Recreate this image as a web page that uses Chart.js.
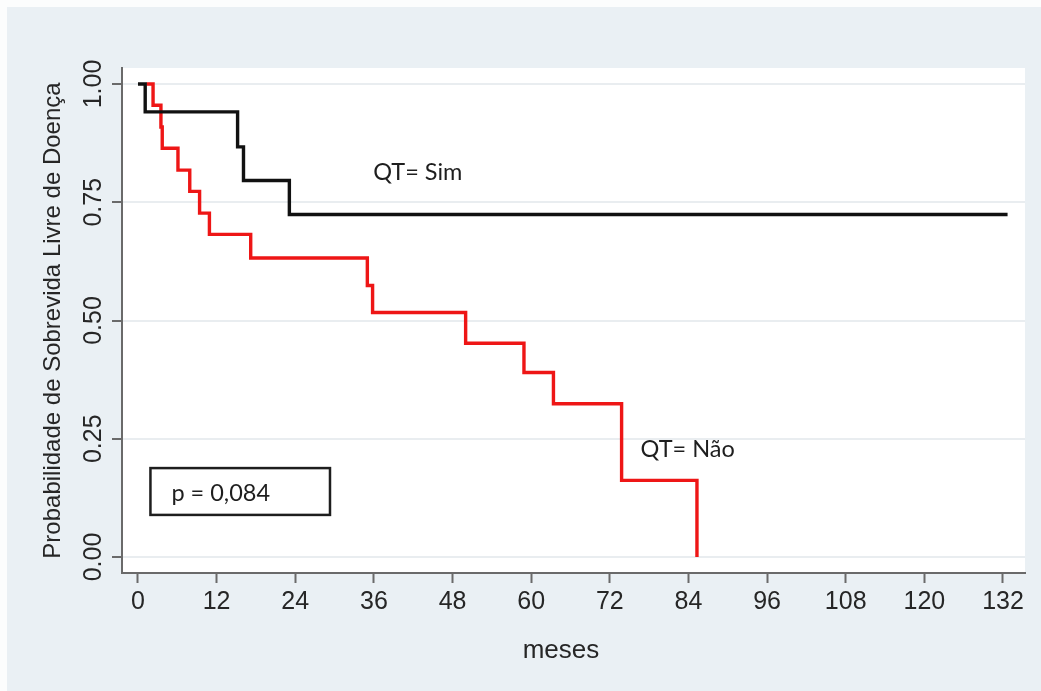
<!DOCTYPE html>
<html>
<head>
<meta charset="utf-8">
<script src="https://cdn.jsdelivr.net/npm/chart.js@4"></script>
<style>
  html, body { margin: 0; padding: 0; background: #fff; }
  canvas { display: block; }
</style>
</head>
<body>
<canvas id="kmChart" width="1041" height="691"></canvas>
<script>
// Kaplan-Meier estimates (time in months, survival)
const simMonths = [0, 1.1, 15.2, 16.1, 23.1, 132.7];
const simSurv   = [1.0, 0.941, 0.867, 0.796, 0.724, 0.724];

const naoMonths = [1.3, 2.3, 3.5, 3.7, 6.1, 7.9, 9.4, 10.9, 17.2, 35.0, 35.8, 50.0, 58.9, 63.4, 73.8, 85.3];
const naoSurv   = [1.0, 0.955, 0.909, 0.864, 0.818, 0.773, 0.727, 0.682, 0.632, 0.574, 0.517, 0.452, 0.390, 0.324, 0.162, 0.0];

const xTicks = [0, 12, 24, 36, 48, 60, 72, 84, 96, 108, 120, 132];
const yTicks = [0, 0.25, 0.5, 0.75, 1];

const yTitle = 'Probabilidade de Sobrevida Livre de Doença';
const xTitle = 'meses';

// text notes placed in data coordinates
const notes = [
  { text: 'QT= Sim', x: 35.9, y: 0.8125 },
  { text: 'QT= Não', x: 76.7, y: 0.227 }
];
const pText = 'p = 0,084';

const toPoints = (xs, ys) => xs.map((x, i) => ({ x: x, y: ys[i] }));

const AXIS_FONT = '"Liberation Sans", Arial, sans-serif';
const NOTE_FONT = 'Lato, "Open Sans", sans-serif';

const background = {
  id: 'background',
  beforeDraw(chart) {
    const { ctx, width, height, chartArea: a } = chart;
    ctx.save();
    ctx.fillStyle = '#fcfdfd';
    ctx.fillRect(0, 0, width, height);
    ctx.fillStyle = '#eaf0f4';
    ctx.fillRect(7, 7, width - 7, height - 7);
    ctx.fillStyle = '#ffffff';
    ctx.fillRect(a.left, a.top, a.right - a.left, a.bottom - a.top);
    ctx.restore();
  }
};

const extras = {
  id: 'extras',
  afterDraw(chart) {
    const { ctx, scales: { x, y } } = chart;
    ctx.save();

    // rotated y tick labels
    ctx.font = '25px ' + AXIS_FONT;
    ctx.fillStyle = '#262626';
    ctx.textAlign = 'center';
    ctx.textBaseline = 'middle';
    yTicks.forEach(v => {
      ctx.save();
      ctx.translate(94, y.getPixelForValue(v));
      ctx.rotate(-Math.PI / 2);
      ctx.fillText(v.toFixed(2), 0, 0);
      ctx.restore();
    });

    // axis titles
    ctx.save();
    ctx.font = '24px ' + AXIS_FONT;
    ctx.translate(53, (y.top + y.bottom) / 2);
    ctx.rotate(-Math.PI / 2);
    ctx.fillText(yTitle, 0, 0);
    ctx.restore();

    ctx.font = '26px ' + AXIS_FONT;
    ctx.fillText(xTitle, 561, 651);

    // curve labels
    ctx.font = '23.5px ' + NOTE_FONT;
    ctx.fillStyle = '#1e1e1e';
    ctx.textAlign = 'left';
    notes.forEach(n => {
      ctx.fillText(n.text, x.getPixelForValue(n.x), y.getPixelForValue(n.y));
    });

    // p-value box
    const bx1 = x.getPixelForValue(1.9), bx2 = x.getPixelForValue(29.3);
    const by1 = y.getPixelForValue(0.188), by2 = y.getPixelForValue(0.089);
    ctx.strokeStyle = '#1e1e1e';
    ctx.lineWidth = 2.5;
    ctx.strokeRect(bx1, by1, bx2 - bx1, by2 - by1);
    ctx.fillText(pText, x.getPixelForValue(5.1), y.getPixelForValue(0.134));

    ctx.restore();
  }
};

new Chart(document.getElementById('kmChart'), {
  type: 'line',
  data: {
    datasets: [
      {
        label: 'QT= Sim',
        data: toPoints(simMonths, simSurv),
        borderColor: '#111111',
        borderWidth: 3.4,
        stepped: 'before',
        pointRadius: 0,
        fill: false
      },
      {
        label: 'QT= Não',
        data: toPoints(naoMonths, naoSurv),
        borderColor: '#ee1616',
        borderWidth: 3.4,
        stepped: 'before',
        pointRadius: 0,
        fill: false
      }
    ]
  },
  options: {
    responsive: false,
    animation: false,
    layout: { padding: { left: 0, top: 68, right: 16, bottom: 0 } },
    plugins: {
      legend: { display: false },
      tooltip: { enabled: false }
    },
    scales: {
      x: {
        type: 'linear',
        min: -2.44,
        max: 135.36,
        afterBuildTicks: s => { s.ticks = xTicks.map(v => ({ value: v })); },
        afterFit: s => { s.height = 118; },
        grid: {
          drawOnChartArea: false,
          drawTicks: true,
          tickLength: 10,
          tickWidth: 2,
          tickColor: '#6a6a6a'
        },
        border: { display: true, color: '#6a6a6a', width: 2 },
        ticks: {
          padding: 4,
          color: '#262626',
          font: { family: AXIS_FONT, size: 25 },
          maxRotation: 0,
          callback: v => String(v)
        }
      },
      y: {
        type: 'linear',
        min: -0.0338,
        max: 1.0338,
        afterBuildTicks: s => { s.ticks = yTicks.map(v => ({ value: v })); },
        afterFit: s => { s.width = 122; },
        grid: {
          color: '#e9edf0',
          lineWidth: 2,
          tickLength: 10,
          tickWidth: 2,
          tickColor: '#6a6a6a'
        },
        border: { display: true, color: '#6a6a6a', width: 2 },
        ticks: { display: false }
      }
    }
  },
  plugins: [background, extras]
});
</script>
</body>
</html>
